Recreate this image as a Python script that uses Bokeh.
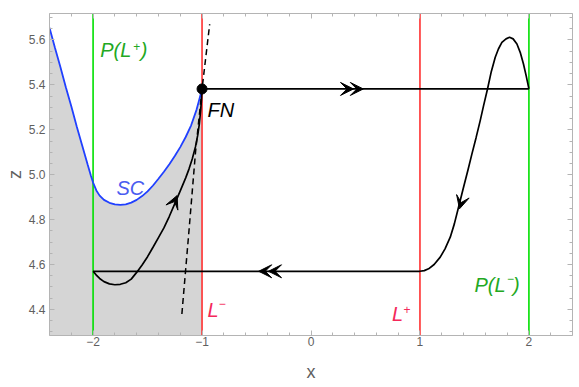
from bokeh.plotting import figure
from bokeh.models import (Range1d, LinearAxis, SingleIntervalTicker, ColumnDataSource,
                          Arrow, VeeHead, NumeralTickFormatter, CustomLabelingPolicy)
from bokeh.core.properties import value
from bokeh.embed import file_html
from bokeh.resources import INLINE

# ---------------- data ----------------
# critical curve SC
sc_x = [-2.40, -2.35, -2.30, -2.25, -2.20, -2.15, -2.10, -2.05, -2.02, -2.00, -1.97, -1.94,
        -1.90, -1.85, -1.80, -1.75, -1.70, -1.65, -1.60, -1.55, -1.50, -1.45, -1.40, -1.35,
        -1.30, -1.25, -1.20, -1.15, -1.10, -1.05, -1.025, -1.0]
sc_z = [5.655, 5.565, 5.48, 5.39, 5.305, 5.215, 5.13, 5.045, 4.995, 4.965, 4.93, 4.907,
        4.888, 4.875, 4.868, 4.866, 4.868, 4.876, 4.888, 4.905, 4.926, 4.952, 4.982, 5.013,
        5.047, 5.083, 5.123, 5.168, 5.22, 5.29, 5.335, 5.382]

# trajectory, left branch (from P(L+) up to FN)
tl_x = [-2.00, -1.97, -1.94, -1.90, -1.85, -1.80, -1.75, -1.70, -1.65, -1.60, -1.55, -1.50,
        -1.45, -1.40, -1.35, -1.30, -1.25, -1.20, -1.15, -1.12, -1.09, -1.06, -1.04, -1.025,
        -1.013, -1.005, -1.0]
tl_z = [4.57, 4.553, 4.538, 4.524, 4.514, 4.510, 4.512, 4.519, 4.535, 4.565, 4.598, 4.635,
        4.677, 4.72, 4.763, 4.815, 4.871, 4.928, 4.986, 5.025, 5.07, 5.125, 5.175, 5.225,
        5.285, 5.335, 5.382]

# trajectory, right branch (from P(L-) down to L+)
tr_x = [2.0, 1.975, 1.95, 1.92, 1.89, 1.855, 1.822, 1.79, 1.752, 1.72, 1.691, 1.655, 1.62,
        1.585, 1.553, 1.515, 1.477, 1.44, 1.40, 1.354, 1.315, 1.278, 1.23, 1.186, 1.13,
        1.079, 1.04, 1.0]
tr_z = [5.382, 5.44, 5.493, 5.545, 5.582, 5.605, 5.612, 5.605, 5.589, 5.56, 5.523, 5.46, 5.382,
        5.31, 5.241, 5.165, 5.093, 5.02, 4.944, 4.855, 4.78, 4.722, 4.67, 4.633, 4.6,
        4.581, 4.573, 4.57]

# fast jumps (horizontal segments)
jump_top_x = [-1.0, 2.0]
jump_top_z = [5.382, 5.382]
jump_bot_x = [1.0, -2.0]
jump_bot_z = [4.57, 4.57]

# folded node
fn_x = [-1.0]
fn_z = [5.382]

# dashed line through FN
dash_x = [-1.185, -1.12, -1.06, -1.0, -0.93]
dash_z = [4.38, 4.75, 5.10, 5.382, 5.67]

# vertical lines
green_x = [-2.0, 2.0]
red_x = [-1.0, 1.0]

# arrows: (start -> tip)
arr_x0 = [-1.289, 1.400, 0.30, 0.39, -0.39, -0.30]
arr_z0 = [4.840, 4.915, 5.382, 5.382, 4.57, 4.57]
arr_x1 = [-1.229, 1.363, 0.39, 0.48, -0.48, -0.39]
arr_z1 = [4.907, 4.848, 5.382, 5.382, 4.57, 4.57]

# labels (main part)
lab_text = ["P(L", "P(L", "L", "L", "SC", "FN"]
lab_x = [-1.935, 1.50, -0.95, 0.743, -1.786, -0.95]
lab_z = [5.554, 4.510, 4.399, 4.381, 4.941, 5.289]
lab_color = ["#22a822", "#22a822", "#f4285a", "#f4285a", "#4a5cf0", "#000000"]
# superscripts and closing parentheses of the labels
sup_text = ["+", "\u2212", "\u2212", "+"]
close_text = [")", ")"]

x_lo, x_hi = -2.4, 2.4
z_lo, z_hi = 4.284, 5.718
fill_floor = 4.0

# ---------------- figure ----------------
p = figure(width=579, height=387, x_range=Range1d(x_lo, x_hi), y_range=Range1d(z_lo, z_hi),
           output_backend="svg", toolbar_location=None,
           min_border_left=49, min_border_right=7, min_border_top=13, min_border_bottom=52)
p.grid.visible = False
p.outline_line_color = None
p.background_fill_color = "white"

AX = "#b4b4b4"
TXT = "#5f5f5f"
no_labels = CustomLabelingPolicy(code="for (const i of Array.from(indices)) { indices.unset(i) } return indices")

def style_axis(ax, show_labels=True):
    ax.axis_line_color = AX
    ax.axis_line_width = 1
    ax.major_tick_line_color = AX
    ax.minor_tick_line_color = AX
    ax.major_tick_in = 5
    ax.major_tick_out = 0
    ax.minor_tick_in = 3
    ax.minor_tick_out = 0
    ax.major_label_text_font = "Liberation Sans"
    ax.major_label_text_color = TXT
    if show_labels:
        ax.major_label_text_font_size = "12px"
    else:
        ax.major_label_text_font_size = "0px"
        ax.major_label_standoff = 0
        ax.major_label_policy = no_labels

p.xaxis.ticker = SingleIntervalTicker(interval=1, num_minor_ticks=5)
p.yaxis.ticker = SingleIntervalTicker(interval=0.2, num_minor_ticks=4)
p.xaxis.major_label_overrides = {-2: "\u22122", -1: "\u22121"}
p.yaxis.formatter = NumeralTickFormatter(format="0.0")
for ax in p.xaxis + p.yaxis:
    style_axis(ax, True)
    ax.axis_label_text_font = "Liberation Sans"
    ax.axis_label_text_font_style = "normal"
    ax.axis_label_text_font_size = "18px"
    ax.axis_label_text_color = TXT
p.xaxis.axis_label = "x"
p.yaxis.axis_label = "z"
p.xaxis.major_label_standoff = 1
p.xaxis.axis_label_standoff = 13
p.yaxis.major_label_standoff = 4
p.yaxis.axis_label_standoff = 1

top = LinearAxis(ticker=SingleIntervalTicker(interval=1, num_minor_ticks=5))
style_axis(top, False)
p.add_layout(top, "above")
right = LinearAxis(ticker=SingleIntervalTicker(interval=0.2, num_minor_ticks=4))
style_axis(right, False)
p.add_layout(right, "right")

# gray region below SC
p.varea(x=sc_x, y1=[fill_floor] * len(sc_x), y2=sc_z, fill_color="#d5d5d5", fill_alpha=1)

# vertical lines
for gx in green_x:
    p.line(x=[gx, gx], y=[fill_floor, 6.0], line_color="#00e000", line_width=1.6)
for rx in red_x:
    p.line(x=[rx, rx], y=[fill_floor, 6.0], line_color="#ff3030", line_width=1.6)

# SC curve
p.line(x=sc_x, y=sc_z, line_color="#2040ff", line_width=1.8)

# trajectories
LW = 1.7
p.line(x=tl_x, y=tl_z, line_color="black", line_width=LW)
p.line(x=tr_x, y=tr_z, line_color="black", line_width=LW)
p.line(x=jump_top_x, y=jump_top_z, line_color="black", line_width=LW)
p.line(x=jump_bot_x, y=jump_bot_z, line_color="black", line_width=LW)

# dashed line
p.line(x=dash_x, y=dash_z, line_color="black", line_width=1.5, line_dash="6 4")

# FN point
p.scatter(x=fn_x, y=fn_z, size=10, color="black")

# arrow heads
asrc = ColumnDataSource(dict(x0=arr_x0, y0=arr_z0, x1=arr_x1, y1=arr_z1))
p.add_layout(Arrow(source=asrc, x_start="x0", y_start="y0", x_end="x1", y_end="y1",
                   line_alpha=0,
                   end=VeeHead(size=13, fill_color="black", line_color="black", line_width=1)))

# labels
FONT = value("Liberation Sans")
lsrc = ColumnDataSource(dict(x=lab_x, y=lab_z, t=lab_text, c=lab_color))
p.text(x="x", y="y", text="t", text_color="c", source=lsrc,
       text_font=FONT, text_font_style="italic",
       text_font_size="20px", text_align="left", text_baseline="middle")

# superscripts: attached to the first four labels
sup_dx = [33, 32.5, 11.2, 11.6]
sup_dy = [-4, -6, -6, -4]
ssrc = ColumnDataSource(dict(x=lab_x[:4], y=lab_z[:4], t=sup_text, c=lab_color[:4],
                             dx=sup_dx, dy=sup_dy))
p.text(x="x", y="y", text="t", text_color="c", source=ssrc, x_offset="dx", y_offset="dy",
       text_font=FONT, text_font_style="normal",
       text_font_size="12px", text_align="left", text_baseline="middle")

csrc = ColumnDataSource(dict(x=lab_x[:2], y=lab_z[:2], t=close_text, c=lab_color[:2],
                             dx=[40.5, 38.5]))
p.text(x="x", y="y", text="t", text_color="c", source=csrc, x_offset="dx",
       text_font=FONT, text_font_style="italic",
       text_font_size="20px", text_align="left", text_baseline="middle")

open("out.html", "w").write(file_html(p, INLINE))
